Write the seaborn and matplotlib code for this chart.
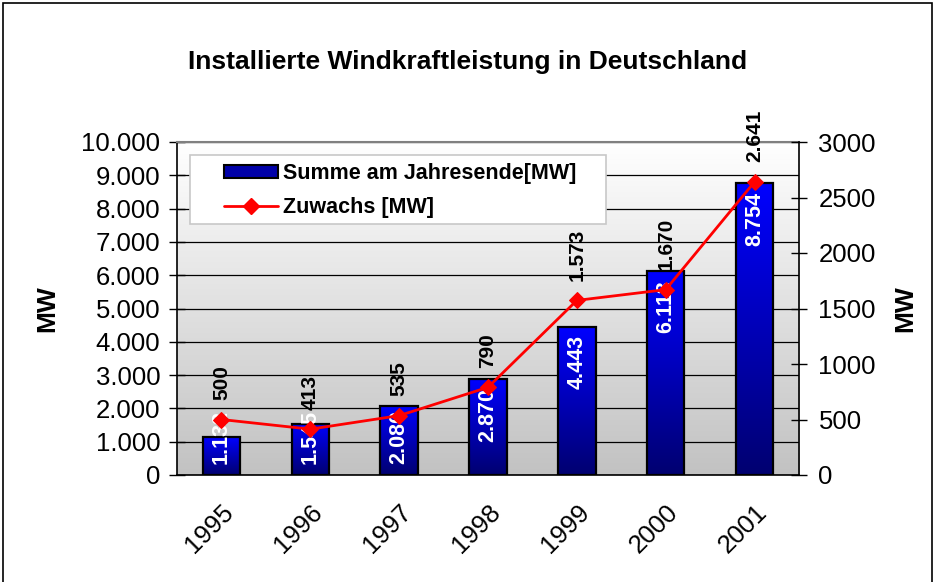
import numpy as np
import pandas as pd
import matplotlib
matplotlib.use("Agg")
import matplotlib.pyplot as plt
import seaborn as sns
from matplotlib.patches import Rectangle, Patch
from matplotlib.lines import Line2D
from matplotlib.colors import LinearSegmentedColormap

# --- data -------------------------------------------------------------
years = ["1995", "1996", "1997", "1998", "1999", "2000", "2001"]
summe = [1132, 1545, 2080, 2870, 4443, 6113, 8754]      # installed total at year end [MW]
zuwachs = [500, 413, 535, 790, 1573, 1670, 2641]        # added during the year [MW]
left_ticks = [0, 1000, 2000, 3000, 4000, 5000, 6000, 7000, 8000, 9000, 10000]
right_ticks = [0, 500, 1000, 1500, 2000, 2500, 3000]


def de(v):
    """German thousands separator."""
    return f"{v:,}".replace(",", ".")


sns.set_style("white")
plt.rcParams["font.family"] = ["Liberation Sans", "DejaVu Sans"]
plt.rcParams.update({"text.color": "black", "axes.labelcolor": "black",
                     "xtick.color": "black", "ytick.color": "black"})

df = pd.DataFrame({"Jahr": years, "Summe": summe, "Zuwachs": zuwachs})
pos = np.arange(len(years))

fig = plt.figure(figsize=(9.35, 5.82), dpi=100)
fig.patch.set_facecolor("white")
ax = fig.add_axes([177 / 935, 1 - 475 / 582, 622 / 935, 333 / 582])

# plot-area background: light gradient from white (top) to grey (bottom)
bg_cmap = LinearSegmentedColormap.from_list("bg", ["#c2c2c2", "#ffffff"])
ax.imshow(np.linspace(1, 0, 256).reshape(-1, 1), cmap=bg_cmap, aspect="auto",
          extent=[-0.5, len(years) - 0.5, 0, 10000], zorder=0)

# bars for the year-end total
sns.barplot(data=df, x="Jahr", y="Summe", ax=ax, width=0.42, color="#0000c0",
            saturation=1, edgecolor="black", linewidth=1.6, zorder=4)

bar_cmap = LinearSegmentedColormap.from_list("bar", ["#000070", "#0000ff"])
for p in ax.patches:
    x0, w, h = p.get_x(), p.get_width(), p.get_height()
    ax.imshow(np.linspace(1, 0, 256).reshape(-1, 1), cmap=bar_cmap, aspect="auto",
              extent=[x0, x0 + w, 0, h], zorder=3)
    p.set_facecolor("none")

# value labels inside the bars
for i, v in enumerate(summe):
    ax.text(pos[i], max(v - 250, 1950), de(v), rotation=90, color="white",
            fontweight="bold", fontsize=15.5, ha="center", va="top", zorder=5)

ax.set_xlim(-0.5, len(years) - 0.5)
ax.set_ylim(0, 10000)
ax.set_yticks(left_ticks, [de(t) for t in left_ticks])
ax.set_axisbelow(True)
ax.yaxis.grid(True, color="black", linewidth=0.9)
ax.xaxis.grid(False)

ax.set_xticks(pos, years)
ax.set_xticks(np.arange(-0.5, len(years)), minor=True)
ax.tick_params(axis="x", which="major", length=0, labelsize=18.5, pad=18)
ax.tick_params(axis="x", which="minor", length=9, width=1, direction="out", color="black")
plt.setp(ax.get_xticklabels(), rotation=45, ha="right", rotation_mode="anchor")
ax.tick_params(axis="y", direction="inout", length=12, width=1, labelsize=18.5, pad=6,
               left=True, color="black")
ax.set_xlabel("")
ax.set_ylabel("MW", fontsize=19, fontweight="bold")
ax.yaxis.set_label_coords(-0.19, 0.5)

for s in ["left", "bottom"]:
    ax.spines[s].set_color("black")
    ax.spines[s].set_linewidth(1.2)
ax.spines["top"].set_color("#808080")
ax.spines["top"].set_linewidth(1.5)
ax.spines["right"].set_visible(False)

# line for the yearly increase on the secondary axis
ax2 = ax.twinx()
sns.lineplot(x=pos, y=zuwachs, ax=ax2, color="red", marker="D", markersize=8,
             markeredgecolor="red", linewidth=2, zorder=5)
for i, v in enumerate(zuwachs):
    ax2.annotate(de(v), (pos[i], v), xytext=(0, 14), textcoords="offset points",
                 rotation=90, ha="center", va="bottom", fontweight="bold",
                 fontsize=15, color="black", annotation_clip=False)

ax2.set_ylim(0, 3000)
ax2.set_yticks(right_ticks, [str(t) for t in right_ticks])
ax2.tick_params(axis="y", direction="inout", length=12, width=1, labelsize=18.5, pad=8,
                right=True, color="black")
ax2.set_ylabel("MW", fontsize=19, fontweight="bold")
ax2.yaxis.set_label_coords(1.151, 0.5)
for s in ["left", "top", "bottom"]:
    ax2.spines[s].set_visible(False)
ax2.spines["right"].set_color("black")
ax2.spines["right"].set_linewidth(1.2)

# legend with its own white box
ax2.add_patch(Rectangle((13 / 622, 251 / 333), 416 / 622, 69 / 333, transform=ax2.transAxes,
                        facecolor="white", edgecolor="#c8c8c8", linewidth=1.2,
                        zorder=6, clip_on=False))
handles = [Patch(facecolor="#0000a8", edgecolor="black", linewidth=1.5),
           Line2D([], [], color="red", linewidth=2, marker="D", markersize=8)]
leg = ax2.legend(handles, ["Summe am Jahresende[MW]", "Zuwachs [MW]"],
                 loc="upper left", bbox_to_anchor=(47 / 622, 312 / 333),
                 frameon=False, borderpad=0, borderaxespad=0,
                 handlelength=2.5, handleheight=0.6, handletextpad=0.25,
                 labelspacing=0.6, prop={"weight": "bold", "size": 15.5})
leg.set_zorder(7)

fig.text(0.5, 1 - 62 / 582, "Installierte Windkraftleistung in Deutschland",
         ha="center", va="center", fontsize=19, fontweight="bold", color="black")

# outer frame (runs off the bottom edge)
fig.patches.append(Rectangle((0.003, -0.02), 0.994, 1.015, transform=fig.transFigure,
                             fill=False, edgecolor="black", linewidth=1.2))

fig.savefig("out.png", dpi=100)
